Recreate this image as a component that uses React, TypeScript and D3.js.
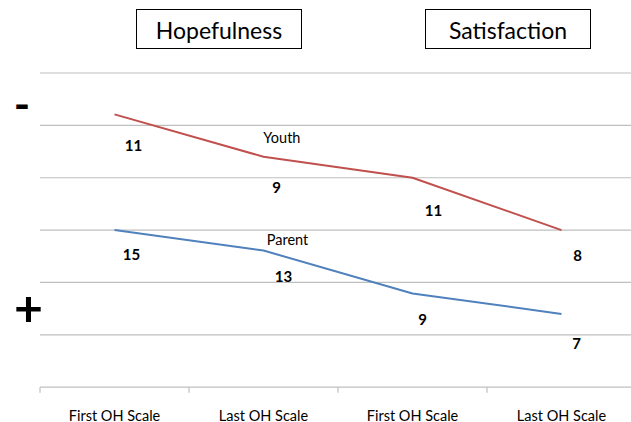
import React from "react";
import * as d3 from "d3";

const categories = ["First OH Scale", "Last OH Scale", "First OH Scale", "Last OH Scale"];
const youthValues = [5.21, 4.4, 4.0, 3.0];
const parentValues = [3.0, 2.61, 1.79, 1.4];
const youthLabels = ["11", "9", "11", "8"];
const parentLabels = ["15", "13", "9", "7"];
const groupTitles = ["Hopefulness", "Satisfaction"];
const yTicks = [0, 1, 2, 3, 4, 5, 6];

// label nudges (px), as in the manually placed labels of the original
const youthLabelDx = [19, 13, 21, 16];
const youthLabelDy = [31, 30.5, 32.5, 25];
const parentLabelDx = [17, 20, 10, 15];
const parentLabelDy = [24, 26.5, 26, 29.5];

const W = 631;
const H = 422;
const FONT = "Lato, 'Open Sans', sans-serif";

export default function App() {
  const x = d3.scaleBand<string>().domain(categories.map((_, i) => String(i))).range([40, 636]).padding(0);
  const y = d3.scaleLinear().domain([0, 6]).range([387.2, 73]);
  const cx = (i: number) => (x(String(i)) as number) + x.bandwidth() / 2;
  const line = d3
    .line<number>()
    .x((_, i) => cx(i))
    .y((d) => y(d));

  const series = [
    { name: "Youth", values: youthValues, labels: youthLabels, dx: youthLabelDx, dy: youthLabelDy, color: "#C0504D", nameDx: 18.4, nameDy: -14 },
    { name: "Parent", values: parentValues, labels: parentLabels, dx: parentLabelDx, dy: parentLabelDy, color: "#4F81BD", nameDx: 24, nameDy: -5.7 },
  ];

  const tickXs = d3.range(categories.length + 1).map((i) => 40 + i * x.bandwidth());

  return (
    <svg width={W} height={H} style={{ position: "absolute", left: 0, top: 0, background: "#fff" }} fontFamily={FONT}>
      <rect x={0} y={0} width={W} height={H} fill="#fff" />
      {/* gridlines */}
      {yTicks.slice(1).map((t) => (
        <line key={t} x1={40} x2={W} y1={y(t)} y2={y(t)} stroke="#BFBFBF" strokeWidth={1.2} />
      ))}
      {/* x axis */}
      <line x1={40} x2={W} y1={y(0)} y2={y(0)} stroke="#BFBFBF" strokeWidth={1.2} />
      {tickXs.map((tx, i) => (
        <line key={i} x1={tx} x2={tx} y1={y(0)} y2={y(0) + 5.5} stroke="#BFBFBF" strokeWidth={1.2} />
      ))}
      {categories.map((c, i) => (
        <text key={i} x={cx(i)} y={420.5} textAnchor="middle" fontSize={14.5} fill="#000">
          {c}
        </text>
      ))}
      {/* series */}
      {series.map((s) => (
        <g key={s.name}>
          <path d={line(s.values) as string} fill="none" stroke={s.color} strokeWidth={2} strokeLinejoin="round" />
          {s.values.map((v, i) => (
            <text
              key={i}
              x={cx(i) + s.dx[i]}
              y={y(v) + s.dy[i] + 5.4}
              textAnchor="middle"
              fontSize={15}
              fontWeight="bold"
              fill="#000"
            >
              {s.labels[i]}
            </text>
          ))}
          <text x={cx(1) + s.nameDx} y={y(s.values[1]) + s.nameDy} textAnchor="middle" fontSize={14.5} fill="#000">
            {s.name}
          </text>
        </g>
      ))}
      {/* group title boxes */}
      {groupTitles.map((t, i) => {
        const left = i === 0 ? 136 : 425;
        return (
          <g key={t}>
            <rect x={left + 0.5} y={9.5} width={165} height={39} fill="#fff" stroke="#000" strokeWidth={1} />
            <text x={left + 83} y={38.5} textAnchor="middle" fontSize={23} fill="#000">
              {t}
            </text>
          </g>
        );
      })}
      {/* sign markers */}
      <text x={22} y={120} textAnchor="middle" fontSize={44} fontWeight="bold" fill="#000">
        -
      </text>
      <text x={28.5} y={326} textAnchor="middle" fontSize={50} fontWeight="bold" fill="#000">
        +
      </text>
    </svg>
  );
}
